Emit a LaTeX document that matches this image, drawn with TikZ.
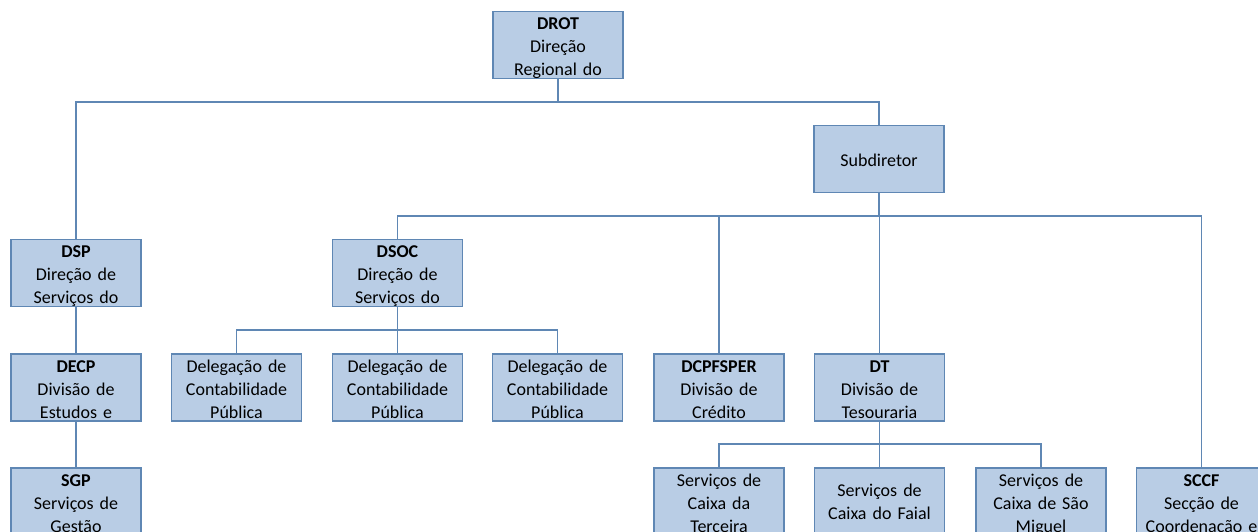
\documentclass[tikz,border=0pt]{standalone}
\usepackage{fontspec}
\setmainfont{Carlito}
\definecolor{boxfill}{RGB}{185,205,229}
\definecolor{boxline}{RGB}{95,135,180}
\tikzset{
  unit/.style={draw=boxline,fill=boxfill,line width=1.2pt,minimum width=130pt,
    minimum height=67pt,inner sep=0pt,text width=128pt,align=center,
    font=\fontsize{18}{23}\selectfont,text height=18pt,text depth=49pt},
  twoline/.style={text height=28pt,text depth=39pt},
  oneline/.style={text height=41pt,text depth=26pt},
  conn/.style={draw=boxline,line width=1.5pt},
}
\begin{document}
\begin{tikzpicture}[x=1pt,y=-1pt]
        \useasboundingbox (0,0) rectangle (1258,531);
        \clip (0,0) rectangle (1258,531);
        %% bus levels
        \coordinate (bus1) at (0,102);
        \coordinate (bus2) at (0,216);
        \coordinate (bus3) at (0,330);
        \coordinate (bus4) at (0,444);
        %% top
        \node[unit] (drot) at (558,45) {\textbf{DROT}\\Direção\\Regional do};
        \node[unit,oneline] (sub) at (879,159) {Subdiretor};
        %% second row
        \node[unit] (dsp) at (76,273) {\textbf{DSP}\\Direção de\\Serviços do};
        \node[unit] (dsoc) at (397.5,273) {\textbf{DSOC}\\Direção de\\Serviços do};
        %% third row
        \node[unit] (decp) at (76,387.5) {\textbf{DECP}\\Divisão de\\Estudos e};
        \foreach \i/\x in {1/236.5,2/397.5,3/557.5}
            \node[unit] (del\i) at (\x,387.5) {Delegação de\\Contabilidade\\Pública};
        \node[unit] (dcp) at (719,387.5) {\textbf{DCPFSPER}\\Divisão de\\Crédito};
        \node[unit] (dt) at (879.5,387.5) {\textbf{DT}\\Divisão de\\Tesouraria};
        %% fourth row
        \node[unit] (sgp) at (76,501.5) {\textbf{SGP}\\Serviços de\\Gestão};
        \node[unit] (cx1) at (719,501.5) {Serviços de\\Caixa da\\Terceira};
        \node[unit,twoline] (cx2) at (879.5,501.5) {Serviços de\\Caixa do Faial};
        \node[unit] (cx3) at (1041,501.5) {Serviços de\\Caixa de São\\Miguel};
        \node[unit] (sccf) at (1201.5,501.5) {\textbf{SCCF}\\Secção de\\Coordenação e};
        %% connectors
        \foreach \n in {dsp,sub} \draw[conn] (drot.south) -- (drot.south |- bus1) -| (\n.north);
        \foreach \n in {dsoc,dcp,dt,sccf} \draw[conn] (sub.south) -- (sub.south |- bus2) -| (\n.north);
        \foreach \i in {1,2,3} \draw[conn] (dsoc.south) -- (dsoc.south |- bus3) -| (del\i.north);
        \foreach \i in {1,2,3} \draw[conn] (dt.south) -- (dt.south |- bus4) -| (cx\i.north);
        \draw[conn] (dsp) -- (decp);
        \draw[conn] (decp) -- (sgp);
    \end{tikzpicture}
\end{document}
